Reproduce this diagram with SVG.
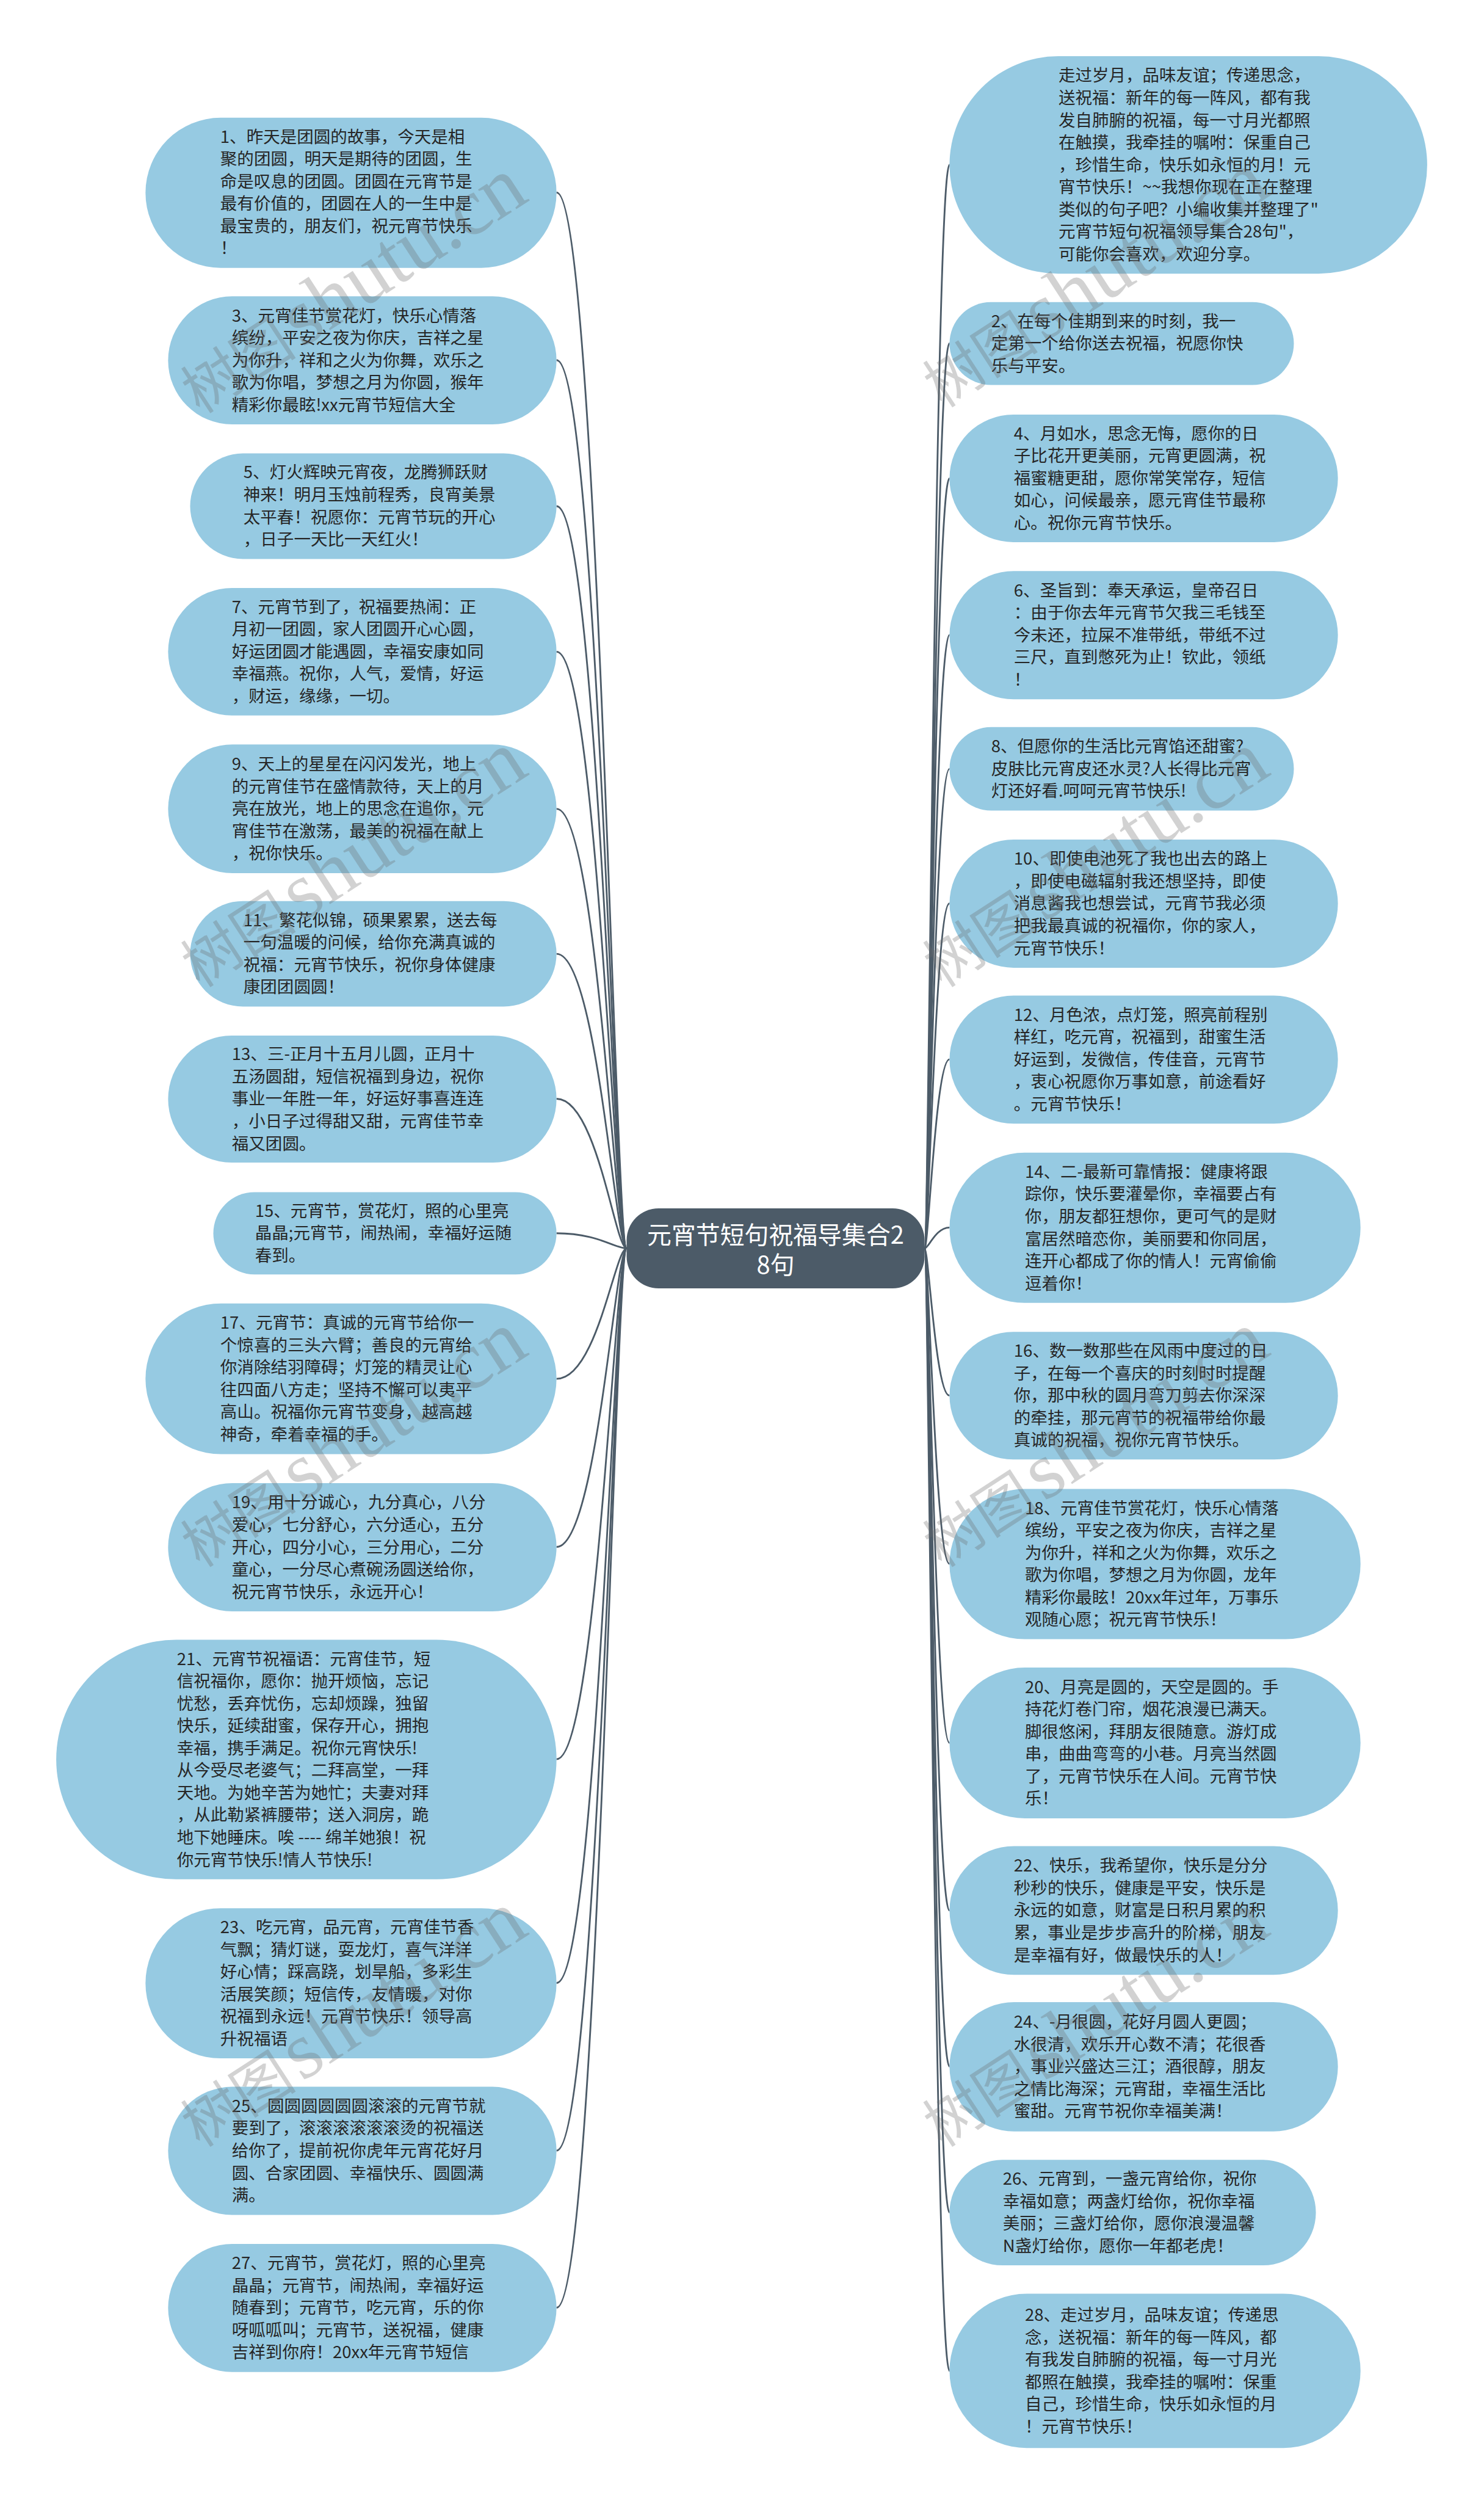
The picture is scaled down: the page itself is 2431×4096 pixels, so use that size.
<svg xmlns="http://www.w3.org/2000/svg" width="2431" height="4096" viewBox="0 0 2431 4096">
<style>
.n{fill:#96cae2}
.t{font-family:"Noto Sans CJK SC","Noto Sans",sans-serif;font-size:29px;fill:#262626}
.c{fill:none;stroke:#4c5b68;stroke-width:3}
.ct{font-family:"Noto Sans CJK SC","Noto Sans",sans-serif;font-size:42px;fill:#ffffff;text-anchor:middle}
.w1{font-family:"Noto Sans CJK SC",sans-serif;font-size:100px}
.w2{font-family:"Liberation Serif",serif;font-size:140px}
.wm{fill:#6a6a6a;fill-opacity:0.3}
</style>
<rect width="2431" height="4096" fill="#ffffff"/>
<g transform="scale(0.9496)">
<g id="connectors">
<path class="c" d="M1081,2153 C1061,2153 1030,332 960,332"/>
<path class="c" d="M1081,2153 C1061,2153 1030,621 960,621"/>
<path class="c" d="M1081,2153 C1061,2153 1030,873 960,873"/>
<path class="c" d="M1081,2153 C1061,2153 1030,1124 960,1124"/>
<path class="c" d="M1081,2153 C1061,2153 1030,1395 960,1395"/>
<path class="c" d="M1081,2153 C1061,2153 1030,1645 960,1645"/>
<path class="c" d="M1081,2153 C1061,2153 1030,1895 960,1895"/>
<path class="c" d="M1081,2153 C1061,2153 1030,2127 960,2127"/>
<path class="c" d="M1081,2153 C1061,2153 1030,2378 960,2378"/>
<path class="c" d="M1081,2153 C1061,2153 1030,2668 960,2668"/>
<path class="c" d="M1081,2153 C1061,2153 1030,3034 960,3034"/>
<path class="c" d="M1081,2153 C1061,2153 1030,3420 960,3420"/>
<path class="c" d="M1081,2153 C1061,2153 1030,3709 960,3709"/>
<path class="c" d="M1081,2153 C1061,2153 1030,3980 960,3980"/>
<path class="c" d="M1595,2153 C1602,2153 1614,284 1638,284"/>
<path class="c" d="M1595,2153 C1602,2153 1614,592 1638,592"/>
<path class="c" d="M1595,2153 C1602,2153 1614,825 1638,825"/>
<path class="c" d="M1595,2153 C1602,2153 1614,1095 1638,1095"/>
<path class="c" d="M1595,2153 C1602,2153 1614,1326 1638,1326"/>
<path class="c" d="M1595,2153 C1602,2153 1614,1558 1638,1558"/>
<path class="c" d="M1595,2153 C1602,2153 1614,1827 1638,1827"/>
<path class="c" d="M1595,2153 C1602,2153 1614,2117 1638,2117"/>
<path class="c" d="M1595,2153 C1602,2153 1614,2407 1638,2407"/>
<path class="c" d="M1595,2153 C1602,2153 1614,2697 1638,2697"/>
<path class="c" d="M1595,2153 C1602,2153 1614,3006 1638,3006"/>
<path class="c" d="M1595,2153 C1602,2153 1614,3295 1638,3295"/>
<path class="c" d="M1595,2153 C1602,2153 1614,3564 1638,3564"/>
<path class="c" d="M1595,2153 C1602,2153 1614,3816 1638,3816"/>
<path class="c" d="M1595,2153 C1602,2153 1614,4089 1638,4089"/>
</g>

<g id="center">
<rect x="1081" y="2084" width="514" height="138" rx="55" fill="#4c5b68"/>
<text class="ct" x="1338" y="2145">元宵节短句祝福导集合2</text>
<text class="ct" x="1338" y="2197">8句</text>
</g>

<g id="n1"><rect class="n" x="251" y="203" width="709" height="259" rx="129.5"/>
<text class="t" x="380" y="246"><tspan x="380" dy="0">1、昨天是团圆的故事，今天是相</tspan><tspan x="380" dy="38.5">聚的团圆，明天是期待的团圆，生</tspan><tspan x="380" dy="38.5">命是叹息的团圆。团圆在元宵节是</tspan><tspan x="380" dy="38.5">最有价值的，团圆在人的一生中是</tspan><tspan x="380" dy="38.5">最宝贵的，朋友们，祝元宵节快乐</tspan><tspan x="380" dy="38.5">！</tspan></text></g>

<g id="n3"><rect class="n" x="290" y="511" width="670" height="221" rx="110.5"/>
<text class="t" x="400" y="554.5"><tspan x="400" dy="0">3、元宵佳节赏花灯，快乐心情落</tspan><tspan x="400" dy="38.5">缤纷，平安之夜为你庆，吉祥之星</tspan><tspan x="400" dy="38.5">为你升，祥和之火为你舞，欢乐之</tspan><tspan x="400" dy="38.5">歌为你唱，梦想之月为你圆，猴年</tspan><tspan x="400" dy="38.5">精彩你最眩!xx元宵节短信大全</tspan></text></g>

<g id="n5"><rect class="n" x="328" y="782" width="632" height="182" rx="91"/>
<text class="t" x="420" y="825"><tspan x="420" dy="0">5、灯火辉映元宵夜，龙腾狮跃财</tspan><tspan x="420" dy="38.5">神来！明月玉烛前程秀，良宵美景</tspan><tspan x="420" dy="38.5">太平春！祝愿你：元宵节玩的开心</tspan><tspan x="420" dy="38.5">，日子一天比一天红火！</tspan></text></g>

<g id="n7"><rect class="n" x="290" y="1014" width="670" height="220" rx="110"/>
<text class="t" x="400" y="1057"><tspan x="400" dy="0">7、元宵节到了，祝福要热闹：正</tspan><tspan x="400" dy="38.5">月初一团圆，家人团圆开心心圆，</tspan><tspan x="400" dy="38.5">好运团圆才能遇圆，幸福安康如同</tspan><tspan x="400" dy="38.5">幸福燕。祝你，人气，爱情，好运</tspan><tspan x="400" dy="38.5">，财运，缘缘，一切。</tspan></text></g>

<g id="n9"><rect class="n" x="290" y="1284" width="670" height="222" rx="111"/>
<text class="t" x="400" y="1328"><tspan x="400" dy="0">9、天上的星星在闪闪发光，地上</tspan><tspan x="400" dy="38.5">的元宵佳节在盛情款待，天上的月</tspan><tspan x="400" dy="38.5">亮在放光，地上的思念在追你，元</tspan><tspan x="400" dy="38.5">宵佳节在激荡，最美的祝福在献上</tspan><tspan x="400" dy="38.5">，祝你快乐。</tspan></text></g>

<g id="n11"><rect class="n" x="328" y="1554" width="632" height="182" rx="91"/>
<text class="t" x="420" y="1597"><tspan x="420" dy="0">11、繁花似锦，硕果累累，送去每</tspan><tspan x="420" dy="38.5">一句温暖的问候，给你充满真诚的</tspan><tspan x="420" dy="38.5">祝福：元宵节快乐，祝你身体健康</tspan><tspan x="420" dy="38.5">康团团圆圆！</tspan></text></g>

<g id="n13"><rect class="n" x="290" y="1786" width="670" height="219" rx="109.5"/>
<text class="t" x="400" y="1828.5"><tspan x="400" dy="0">13、三-正月十五月儿圆，正月十</tspan><tspan x="400" dy="38.5">五汤圆甜，短信祝福到身边，祝你</tspan><tspan x="400" dy="38.5">事业一年胜一年，好运好事喜连连</tspan><tspan x="400" dy="38.5">，小日子过得甜又甜，元宵佳节幸</tspan><tspan x="400" dy="38.5">福又团圆。</tspan></text></g>

<g id="n15"><rect class="n" x="368" y="2056" width="592" height="142" rx="71"/>
<text class="t" x="440" y="2098.5"><tspan x="440" dy="0">15、元宵节，赏花灯，照的心里亮</tspan><tspan x="440" dy="38.5">晶晶;元宵节，闹热闹，幸福好运随</tspan><tspan x="440" dy="38.5">春到。</tspan></text></g>

<g id="n17"><rect class="n" x="251" y="2248" width="709" height="260" rx="130"/>
<text class="t" x="380" y="2291.75"><tspan x="380" dy="0">17、元宵节：真诚的元宵节给你一</tspan><tspan x="380" dy="38.5">个惊喜的三头六臂；善良的元宵给</tspan><tspan x="380" dy="38.5">你消除结羽障碍；灯笼的精灵让心</tspan><tspan x="380" dy="38.5">往四面八方走；坚持不懈可以夷平</tspan><tspan x="380" dy="38.5">高山。祝福你元宵节变身，越高越</tspan><tspan x="380" dy="38.5">神奇，牵着幸福的手。</tspan></text></g>

<g id="n19"><rect class="n" x="290" y="2558" width="670" height="221" rx="110.5"/>
<text class="t" x="400" y="2601.5"><tspan x="400" dy="0">19、用十分诚心，九分真心，八分</tspan><tspan x="400" dy="38.5">爱心，七分舒心，六分适心，五分</tspan><tspan x="400" dy="38.5">开心，四分小心，三分用心，二分</tspan><tspan x="400" dy="38.5">童心，一分尽心煮碗汤圆送给你，</tspan><tspan x="400" dy="38.5">祝元宵节快乐，永远开心！</tspan></text></g>

<g id="n21"><rect class="n" x="97" y="2828" width="863" height="413" rx="206.5"/>
<text class="t" x="305" y="2871.25"><tspan x="305" dy="0">21、元宵节祝福语：元宵佳节，短</tspan><tspan x="305" dy="38.5">信祝福你，愿你：抛开烦恼，忘记</tspan><tspan x="305" dy="38.5">忧愁，丢弃忧伤，忘却烦躁，独留</tspan><tspan x="305" dy="38.5">快乐，延续甜蜜，保存开心，拥抱</tspan><tspan x="305" dy="38.5">幸福，携手满足。祝你元宵快乐!</tspan><tspan x="305" dy="38.5">从今受尽老婆气；二拜高堂，一拜</tspan><tspan x="305" dy="38.5">天地。为她辛苦为她忙；夫妻对拜</tspan><tspan x="305" dy="38.5">，从此勒紧裤腰带；送入洞房，跪</tspan><tspan x="305" dy="38.5">地下她睡床。唉 ---- 绵羊她狼！祝</tspan><tspan x="305" dy="38.5">你元宵节快乐!情人节快乐!</tspan></text></g>

<g id="n23"><rect class="n" x="251" y="3291" width="709" height="259" rx="129.5"/>
<text class="t" x="380" y="3334.25"><tspan x="380" dy="0">23、吃元宵，品元宵，元宵佳节香</tspan><tspan x="380" dy="38.5">气飘；猜灯谜，耍龙灯，喜气洋洋</tspan><tspan x="380" dy="38.5">好心情；踩高跷，划旱船，多彩生</tspan><tspan x="380" dy="38.5">活展笑颜；短信传，友情暖，对你</tspan><tspan x="380" dy="38.5">祝福到永远！元宵节快乐！领导高</tspan><tspan x="380" dy="38.5">升祝福语</tspan></text></g>

<g id="n25"><rect class="n" x="290" y="3599" width="670" height="221" rx="110.5"/>
<text class="t" x="400" y="3642.5"><tspan x="400" dy="0">25、圆圆圆圆圆圆滚滚的元宵节就</tspan><tspan x="400" dy="38.5">要到了，滚滚滚滚滚滚烫的祝福送</tspan><tspan x="400" dy="38.5">给你了，提前祝你虎年元宵花好月</tspan><tspan x="400" dy="38.5">圆、合家团圆、幸福快乐、圆圆满</tspan><tspan x="400" dy="38.5">满。</tspan></text></g>

<g id="n27"><rect class="n" x="290" y="3870" width="670" height="221" rx="110.5"/>
<text class="t" x="400" y="3913.5"><tspan x="400" dy="0">27、元宵节，赏花灯，照的心里亮</tspan><tspan x="400" dy="38.5">晶晶；元宵节，闹热闹，幸福好运</tspan><tspan x="400" dy="38.5">随春到；元宵节，吃元宵，乐的你</tspan><tspan x="400" dy="38.5">呀呱呱叫；元宵节，送祝福，健康</tspan><tspan x="400" dy="38.5">吉祥到你府！20xx年元宵节短信</tspan></text></g>

<g id="intro"><rect class="n" x="1638" y="97" width="824" height="375" rx="187.5"/>
<text class="t" x="1826" y="140.5"><tspan x="1826" dy="0">走过岁月，品味友谊；传递思念，</tspan><tspan x="1826" dy="38.5">送祝福：新年的每一阵风，都有我</tspan><tspan x="1826" dy="38.5">发自肺腑的祝福，每一寸月光都照</tspan><tspan x="1826" dy="38.5">在触摸，我牵挂的嘱咐：保重自己</tspan><tspan x="1826" dy="38.5">，珍惜生命，快乐如永恒的月！元</tspan><tspan x="1826" dy="38.5">宵节快乐！~~我想你现在正在整理</tspan><tspan x="1826" dy="38.5">类似的句子吧？小编收集并整理了"</tspan><tspan x="1826" dy="38.5">元宵节短句祝福领导集合28句"，</tspan><tspan x="1826" dy="38.5">可能你会喜欢，欢迎分享。</tspan></text></g>

<g id="n2"><rect class="n" x="1638" y="521" width="594" height="143" rx="71.5"/>
<text class="t" x="1710" y="564"><tspan x="1710" dy="0">2、在每个佳期到来的时刻，我一</tspan><tspan x="1710" dy="38.5">定第一个给你送去祝福，祝愿你快</tspan><tspan x="1710" dy="38.5">乐与平安。</tspan></text></g>

<g id="n4"><rect class="n" x="1638" y="715" width="670" height="220" rx="110"/>
<text class="t" x="1749" y="758"><tspan x="1749" dy="0">4、月如水，思念无悔，愿你的日</tspan><tspan x="1749" dy="38.5">子比花开更美丽，元宵更圆满，祝</tspan><tspan x="1749" dy="38.5">福蜜糖更甜，愿你常笑常存，短信</tspan><tspan x="1749" dy="38.5">如心，问候最亲，愿元宵佳节最称</tspan><tspan x="1749" dy="38.5">心。祝你元宵节快乐。</tspan></text></g>

<g id="n6"><rect class="n" x="1638" y="985" width="670" height="221" rx="110.5"/>
<text class="t" x="1749" y="1028.5"><tspan x="1749" dy="0">6、圣旨到：奉天承运，皇帝召日</tspan><tspan x="1749" dy="38.5">：由于你去年元宵节欠我三毛钱至</tspan><tspan x="1749" dy="38.5">今未还，拉屎不准带纸，带纸不过</tspan><tspan x="1749" dy="38.5">三尺，直到憋死为止！钦此，领纸</tspan><tspan x="1749" dy="38.5">！</tspan></text></g>

<g id="n8"><rect class="n" x="1638" y="1254" width="594" height="144" rx="72"/>
<text class="t" x="1710" y="1297.5"><tspan x="1710" dy="0">8、但愿你的生活比元宵馅还甜蜜?</tspan><tspan x="1710" dy="38.5">皮肤比元宵皮还水灵?人长得比元宵</tspan><tspan x="1710" dy="38.5">灯还好看.呵呵元宵节快乐!</tspan></text></g>

<g id="n10"><rect class="n" x="1638" y="1448" width="670" height="221" rx="110.5"/>
<text class="t" x="1749" y="1491.5"><tspan x="1749" dy="0">10、即使电池死了我也出去的路上</tspan><tspan x="1749" dy="38.5">，即使电磁辐射我还想坚持，即使</tspan><tspan x="1749" dy="38.5">消息酱我也想尝试，元宵节我必须</tspan><tspan x="1749" dy="38.5">把我最真诚的祝福你，你的家人，</tspan><tspan x="1749" dy="38.5">元宵节快乐！</tspan></text></g>

<g id="n12"><rect class="n" x="1638" y="1717" width="670" height="221" rx="110.5"/>
<text class="t" x="1749" y="1760.5"><tspan x="1749" dy="0">12、月色浓，点灯笼，照亮前程别</tspan><tspan x="1749" dy="38.5">样红，吃元宵，祝福到，甜蜜生活</tspan><tspan x="1749" dy="38.5">好运到，发微信，传佳音，元宵节</tspan><tspan x="1749" dy="38.5">，衷心祝愿你万事如意，前途看好</tspan><tspan x="1749" dy="38.5">。元宵节快乐！</tspan></text></g>

<g id="n14"><rect class="n" x="1638" y="1988" width="709" height="259" rx="129.5"/>
<text class="t" x="1768" y="2031.25"><tspan x="1768" dy="0">14、二-最新可靠情报：健康将跟</tspan><tspan x="1768" dy="38.5">踪你，快乐要灌晕你，幸福要占有</tspan><tspan x="1768" dy="38.5">你，朋友都狂想你，更可气的是财</tspan><tspan x="1768" dy="38.5">富居然暗恋你，美丽要和你同居，</tspan><tspan x="1768" dy="38.5">连开心都成了你的情人！元宵偷偷</tspan><tspan x="1768" dy="38.5">逗着你！</tspan></text></g>

<g id="n16"><rect class="n" x="1638" y="2297" width="670" height="220" rx="110"/>
<text class="t" x="1749" y="2340"><tspan x="1749" dy="0">16、数一数那些在风雨中度过的日</tspan><tspan x="1749" dy="38.5">子，在每一个喜庆的时刻时时提醒</tspan><tspan x="1749" dy="38.5">你，那中秋的圆月弯刀剪去你深深</tspan><tspan x="1749" dy="38.5">的牵挂，那元宵节的祝福带给你最</tspan><tspan x="1749" dy="38.5">真诚的祝福，祝你元宵节快乐。</tspan></text></g>

<g id="n18"><rect class="n" x="1638" y="2568" width="709" height="259" rx="129.5"/>
<text class="t" x="1768" y="2611.25"><tspan x="1768" dy="0">18、元宵佳节赏花灯，快乐心情落</tspan><tspan x="1768" dy="38.5">缤纷，平安之夜为你庆，吉祥之星</tspan><tspan x="1768" dy="38.5">为你升，祥和之火为你舞，欢乐之</tspan><tspan x="1768" dy="38.5">歌为你唱，梦想之月为你圆，龙年</tspan><tspan x="1768" dy="38.5">精彩你最眩！20xx年过年，万事乐</tspan><tspan x="1768" dy="38.5">观随心愿；祝元宵节快乐！</tspan></text></g>

<g id="n20"><rect class="n" x="1638" y="2876" width="709" height="260" rx="130"/>
<text class="t" x="1768" y="2919.75"><tspan x="1768" dy="0">20、月亮是圆的，天空是圆的。手</tspan><tspan x="1768" dy="38.5">持花灯卷门帘，烟花浪漫已满天。</tspan><tspan x="1768" dy="38.5">脚很悠闲，拜朋友很随意。游灯成</tspan><tspan x="1768" dy="38.5">串，曲曲弯弯的小巷。月亮当然圆</tspan><tspan x="1768" dy="38.5">了，元宵节快乐在人间。元宵节快</tspan><tspan x="1768" dy="38.5">乐！</tspan></text></g>

<g id="n22"><rect class="n" x="1638" y="3184" width="670" height="222" rx="111"/>
<text class="t" x="1749" y="3228"><tspan x="1749" dy="0">22、快乐，我希望你，快乐是分分</tspan><tspan x="1749" dy="38.5">秒秒的快乐，健康是平安，快乐是</tspan><tspan x="1749" dy="38.5">永远的如意，财富是日积月累的积</tspan><tspan x="1749" dy="38.5">累，事业是步步高升的阶梯，朋友</tspan><tspan x="1749" dy="38.5">是幸福有好，做最快乐的人！</tspan></text></g>

<g id="n24"><rect class="n" x="1638" y="3453" width="670" height="223" rx="111.5"/>
<text class="t" x="1749" y="3497.5"><tspan x="1749" dy="0">24、-月很圆，花好月圆人更圆；</tspan><tspan x="1749" dy="38.5">水很清，欢乐开心数不清；花很香</tspan><tspan x="1749" dy="38.5">，事业兴盛达三江；酒很醇，朋友</tspan><tspan x="1749" dy="38.5">之情比海深；元宵甜，幸福生活比</tspan><tspan x="1749" dy="38.5">蜜甜。元宵节祝你幸福美满！</tspan></text></g>

<g id="n26"><rect class="n" x="1638" y="3725" width="632" height="182" rx="91"/>
<text class="t" x="1730" y="3768.25"><tspan x="1730" dy="0">26、元宵到，一盏元宵给你，祝你</tspan><tspan x="1730" dy="38.5">幸福如意；两盏灯给你，祝你幸福</tspan><tspan x="1730" dy="38.5">美丽；三盏灯给你，愿你浪漫温馨</tspan><tspan x="1730" dy="38.5">N盏灯给你，愿你一年都老虎！</tspan></text></g>

<g id="n28"><rect class="n" x="1638" y="3956" width="709" height="266" rx="133"/>
<text class="t" x="1768" y="4002.75"><tspan x="1768" dy="0">28、走过岁月，品味友谊；传递思</tspan><tspan x="1768" dy="38.5">念，送祝福：新年的每一阵风，都</tspan><tspan x="1768" dy="38.5">有我发自肺腑的祝福，每一寸月光</tspan><tspan x="1768" dy="38.5">都照在触摸，我牵挂的嘱咐：保重</tspan><tspan x="1768" dy="38.5">自己，珍惜生命，快乐如永恒的月</tspan><tspan x="1768" dy="38.5">！元宵节快乐！</tspan></text></g>

<g id="watermark" class="wm">
<text transform="translate(345,715) rotate(-33)"><tspan class="w1">树图</tspan><tspan class="w2" dx="10">shutu.cn</tspan></text>
<text transform="translate(345,1705) rotate(-33)"><tspan class="w1">树图</tspan><tspan class="w2" dx="10">shutu.cn</tspan></text>
<text transform="translate(345,2705) rotate(-33)"><tspan class="w1">树图</tspan><tspan class="w2" dx="10">shutu.cn</tspan></text>
<text transform="translate(345,3705) rotate(-33)"><tspan class="w1">树图</tspan><tspan class="w2" dx="10">shutu.cn</tspan></text>
<text transform="translate(1625,705) rotate(-33)"><tspan class="w1">树图</tspan><tspan class="w2" dx="10">shutu.cn</tspan></text>
<text transform="translate(1625,1705) rotate(-33)"><tspan class="w1">树图</tspan><tspan class="w2" dx="10">shutu.cn</tspan></text>
<text transform="translate(1625,2705) rotate(-33)"><tspan class="w1">树图</tspan><tspan class="w2" dx="10">shutu.cn</tspan></text>
<text transform="translate(1625,3705) rotate(-33)"><tspan class="w1">树图</tspan><tspan class="w2" dx="10">shutu.cn</tspan></text>
</g>
</g>
</svg>
